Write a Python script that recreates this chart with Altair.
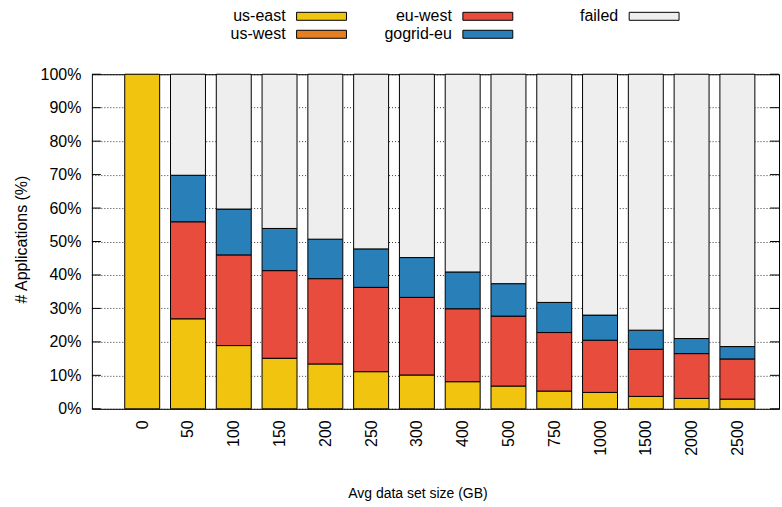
import altair as alt
import pandas as pd

# Average data set size categories (GB)
sizes = ["0", "50", "100", "150", "200", "250", "300", "400", "500",
         "750", "1000", "1500", "2000", "2500"]

series = ["us-east", "us-west", "eu-west", "gogrid-eu", "failed"]
colors = ["#f1c40f", "#e67e22", "#e74c3c", "#2980b9", "#eeeeee"]

# Share of applications (%) per placement, one value per size category
us_east = [100.0, 26.9, 18.9, 15.1, 13.4, 11.1, 10.1, 8.1, 6.8, 5.3, 4.9, 3.7, 3.1, 2.9]
us_west = [0.0, 0.0, 0.0, 0.0, 0.0, 0.0, 0.0, 0.0, 0.0, 0.0, 0.0, 0.0, 0.0, 0.0]
eu_west = [0.0, 29.0, 27.1, 26.2, 25.5, 25.2, 23.2, 21.8, 20.9, 17.5, 15.6, 14.1, 13.4, 12.0]
gogrid_eu = [0.0, 13.9, 13.7, 12.6, 11.8, 11.5, 11.9, 11.0, 9.7, 9.0, 7.5, 5.7, 4.5, 3.7]
failed = [0.0, 30.2, 40.3, 46.1, 49.3, 52.2, 54.8, 59.1, 62.6, 68.2, 72.0, 76.5, 79.0, 81.4]

y_ticks = [0, 10, 20, 30, 40, 50, 60, 70, 80, 90, 100]

FONT = "Liberation Sans"

rows = []
for s_i, (name, vals) in enumerate(zip(series, [us_east, us_west, eu_west, gogrid_eu, failed])):
    for idx, v in enumerate(vals):
        if v > 0:
            rows.append({"idx": idx, "size": sizes[idx], "series": name,
                         "value": v, "order": s_i})
df = pd.DataFrame(rows)

label_expr = "[" + ",".join("'%s'" % s for s in sizes) + "][datum.value]"

color_scale = alt.Scale(domain=series, range=colors)
y_scale = alt.Scale(domain=[0, 100], nice=False)
y_axis = alt.Axis(values=y_ticks, labelExpr="datum.value + '%'", labelOverlap=False,
                  labelPadding=11, ticks=False, domain=False,
                  grid=True, gridColor="black", gridDash=[1, 2],
                  gridOpacity=0.8, labelFontSize=16,
                  title="# Applications (%)", titleFontSize=16,
                  titlePadding=11, titleY=165)

bars = alt.Chart(df).mark_bar(size=35, stroke="black", strokeWidth=1).encode(
    x=alt.X("idx:Q",
            scale=alt.Scale(domain=[-0.99, 13.8], nice=False, zero=False),
            axis=alt.Axis(values=list(range(len(sizes))), labelExpr=label_expr,
                          labelAngle=270, labelAlign="right", labelBaseline="middle",
                          labelPadding=11, ticks=False, domain=False, grid=False,
                          labelOverlap=False, labelFontSize=16,
                          title="Avg data set size (GB)",
                          titleFontSize=14, titlePadding=31, titleX=326)),
    y=alt.Y("value:Q", stack="zero", scale=y_scale, axis=y_axis),
    color=alt.Color("series:N", scale=color_scale, legend=None),
    order=alt.Order("order:Q"),
)

# Short inward tick marks on both sides of the frame
tick_df = pd.DataFrame({"value": y_ticks})
ticks_left = alt.Chart(tick_df).mark_rule(color="black").encode(
    y=alt.Y("value:Q", scale=y_scale, axis=y_axis), x=alt.value(0), x2=alt.value(9))
ticks_right = alt.Chart(tick_df).mark_rule(color="black").encode(
    y=alt.Y("value:Q", scale=y_scale, axis=y_axis), x=alt.value(679), x2=alt.value(688))

main = alt.layer(bars, ticks_left, ticks_right).properties(width=688, height=335)

# Key laid out in columns of two, label to the left of its swatch
legend_df = pd.DataFrame({
    "series": series,
    "col": [i // 2 for i in range(len(series))],
    "row": [i % 2 for i in range(len(series))],
})

lx = alt.Scale(domain=[-1.231, 2.901], nice=False, zero=False)
ly = alt.Scale(domain=[1.889, -0.889], nice=False, zero=False)

swatches = alt.Chart(legend_df).transform_calculate(
    c2="datum.col + 0.3", r0="datum.row - 0.222", r1="datum.row + 0.222"
).mark_rect(stroke="black", strokeWidth=1).encode(
    x=alt.X("col:Q", scale=lx, axis=None),
    x2="c2:Q",
    y=alt.Y("r0:Q", scale=ly, axis=None),
    y2="r1:Q",
    color=alt.Color("series:N", scale=color_scale, legend=None),
)
labels = alt.Chart(legend_df).mark_text(
    align="right", baseline="middle", dx=-11, fontSize=16, font=FONT, color="black"
).encode(
    x=alt.X("col:Q", scale=lx, axis=None),
    y=alt.Y("row:Q", scale=ly, axis=None),
    text="series:N",
)
key = alt.layer(swatches, labels).properties(
    width=688, height=50, view=alt.ViewBackground(stroke=None))

chart = alt.vconcat(key, main, spacing=24, bounds="flush").properties(
    padding={"left": 12, "top": 0, "right": 2, "bottom": 4}
).configure(font=FONT).configure_axis(
    labelFont=FONT, titleFont=FONT, labelColor="black", titleColor="black",
    titleFontWeight="normal"
).configure_view(stroke="black", strokeWidth=1)

chart.save("out.html", embed_options={"renderer": "svg", "actions": False})
